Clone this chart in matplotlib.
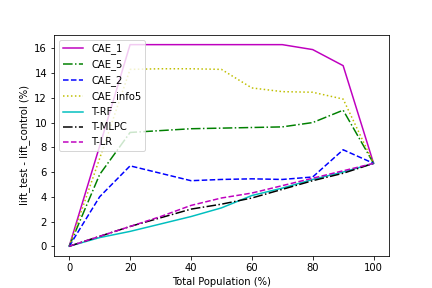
import matplotlib
matplotlib.use('Agg')
from matplotlib import pyplot as plt

x = [0, 10, 20, 30, 40, 50, 60, 70, 80, 90, 100]

cae_1 = [0, 8.1, 16.3, 16.3, 16.3, 16.3, 16.3, 16.3, 15.9, 14.6, 6.7]
cae_5 = [0, 5.8, 9.2, 9.35, 9.5, 9.55, 9.6, 9.65, 10.0, 11.0, 6.7]
cae_2 = [0, 4.0, 6.5, 5.9, 5.3, 5.4, 5.45, 5.4, 5.6, 7.8, 6.7]
cae_info5 = [0, 7.1, 14.3, 14.35, 14.35, 14.3, 12.8, 12.5, 12.45, 11.9, 6.7]
t_rf = [0, 0.7, 1.2, 1.8, 2.4, 3.1, 4.1, 4.7, 5.4, 6.0, 6.7]
t_mlpc = [0, 0.8, 1.6, 2.3, 3.0, 3.4, 3.9, 4.6, 5.3, 5.9, 6.7]
t_lr = [0, 0.8, 1.6, 2.4, 3.3, 3.9, 4.3, 4.9, 5.5, 6.1, 6.7]

fig = plt.figure(figsize=(6, 4), dpi=72)
plt.plot(x, cae_1, 'm-', label='CAE_1')
plt.plot(x, cae_5, 'g-.', label='CAE_5')
plt.plot(x, cae_2, 'b--', label='CAE_2')
plt.plot(x, cae_info5, 'y:', label='CAE_info5')
plt.plot(x, t_rf, 'c-', label='T-RF')
plt.plot(x, t_mlpc, 'k-.', label='T-MLPC')
plt.plot(x, t_lr, 'm--', label='T-LR')
plt.xlabel('Total Population (%)')
plt.ylabel('lift_test - lift_control (%)')
plt.legend(loc='upper left')
plt.savefig('out.png')
